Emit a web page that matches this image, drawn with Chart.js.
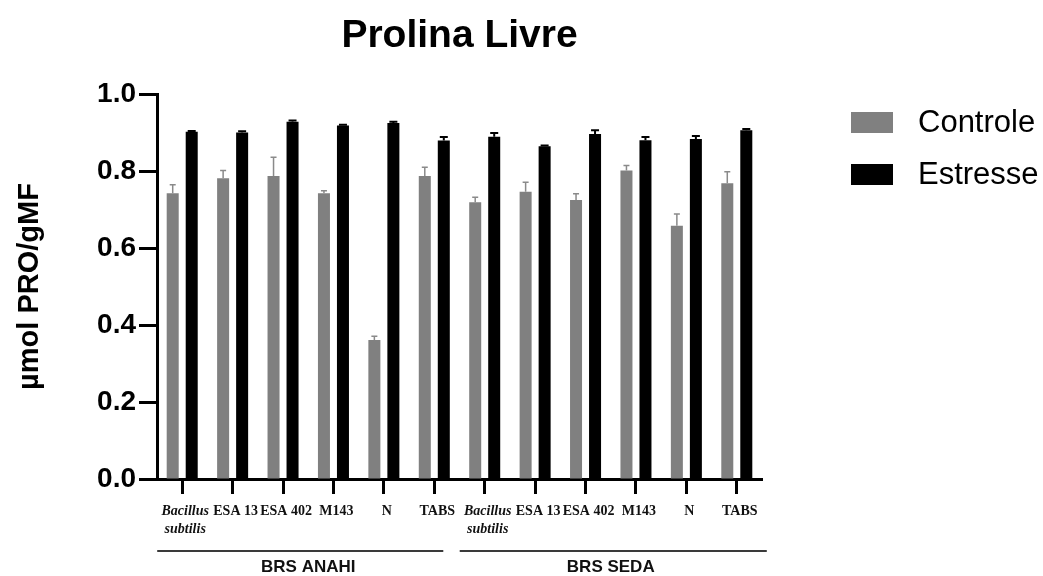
<!DOCTYPE html>
<html>
<head>
<meta charset="utf-8">
<title>Prolina Livre</title>
<script src="https://cdn.jsdelivr.net/npm/chart.js@4.4.1/dist/chart.umd.min.js"></script>
<style>
  html, body { margin: 0; padding: 0; background: #fff; }
  canvas { display: block; }
</style>
</head>
<body>
<canvas id="chart" width="1043" height="576"></canvas>
<script>
// Cultivars (groups along the x axis) and the inoculation treatments within each
const cultivars = ['BRS ANAHI', 'BRS SEDA'];
const treatments = [['Bacillus', 'subtilis'], 'ESA 13', 'ESA 402', 'M143', 'N', 'TABS'];

// Series names
const seriesNames = ['Controle', 'Estresse'];

// Mean free proline (µmol PRO/gMF), BRS ANAHI treatments then BRS SEDA treatments
const controleMeans = [0.742, 0.781, 0.787, 0.742, 0.361, 0.787,
                       0.719, 0.746, 0.725, 0.801, 0.658, 0.768];
const estresseMeans = [0.902, 0.900, 0.928, 0.918, 0.925, 0.879,
                       0.889, 0.864, 0.896, 0.880, 0.883, 0.906];

// Standard errors (upper whiskers only)
const controleErr = [0.022, 0.020, 0.049, 0.007, 0.010, 0.023,
                     0.013, 0.025, 0.016, 0.013, 0.030, 0.030];
const estresseErr = [0.002, 0.003, 0.003, 0.002, 0.003, 0.009,
                     0.010, 0.002, 0.010, 0.008, 0.008, 0.003];

// Y axis tick values
const yTicks = [0.0, 0.2, 0.4, 0.6, 0.8, 1.0];

const categoryLabels = cultivars.flatMap(() => treatments);

const SANS = '"Liberation Sans", Arial, Helvetica, sans-serif';
const SERIF = '"Liberation Serif", "Times New Roman", serif';

// Upward-only error whiskers with caps, drawn on top of each bar
const errorWhiskers = {
  id: 'errorWhiskers',
  afterDatasetsDraw(chart) {
    const ctx = chart.ctx;
    const yScale = chart.scales.y;
    ctx.save();
    chart.data.datasets.forEach((ds, di) => {
      const meta = chart.getDatasetMeta(di);
      meta.data.forEach((bar, i) => {
        const top = yScale.getPixelForValue(ds.data[i] + ds.errors[i]);
        const x = bar.x;
        ctx.strokeStyle = ds.whiskerColor;
        ctx.lineWidth = ds.whiskerWidth;
        ctx.beginPath();
        ctx.moveTo(x, bar.y);
        ctx.lineTo(x, top);
        ctx.moveTo(x - ds.capHalf, top);
        ctx.lineTo(x + ds.capHalf, top);
        ctx.stroke();
      });
    });
    ctx.restore();
  }
};

// Cultivar brackets beneath the treatment labels
const cultivarBrackets = {
  id: 'cultivarBrackets',
  afterDraw(chart) {
    const ctx = chart.ctx;
    const xs = chart.scales.x;
    const n = treatments.length;
    const ext = [[-25, 9], [-25, 30]];
    ctx.save();
    cultivars.forEach((name, g) => {
      const p0 = xs.getPixelForValue(g * n);
      const p1 = xs.getPixelForValue(g * n + n - 1);
      ctx.strokeStyle = '#3a3a3a';
      ctx.lineWidth = 2;
      ctx.beginPath();
      ctx.moveTo(p0 + ext[g][0], 551);
      ctx.lineTo(p1 + ext[g][1], 551);
      ctx.stroke();
      ctx.fillStyle = '#111';
      ctx.font = 'bold 17px ' + SANS;
      ctx.textAlign = 'center';
      ctx.textBaseline = 'middle';
      ctx.fillText(name, (p0 + p1) / 2, 567);
    });
    ctx.restore();
  }
};

// Legend block to the right of the plot
const sideLegend = {
  id: 'sideLegend',
  afterDraw(chart) {
    const ctx = chart.ctx;
    const left = chart.chartArea.right + 89;
    ctx.save();
    chart.data.datasets.forEach((ds, i) => {
      const y = 112 + i * 52;
      ctx.fillStyle = ds.backgroundColor;
      ctx.fillRect(left, y, 42, 21);
      ctx.fillStyle = '#000';
      ctx.font = '31px ' + SANS;
      ctx.textAlign = 'left';
      ctx.textBaseline = 'middle';
      ctx.fillText(ds.label, left + 67, y + 11);
    });
    ctx.restore();
  }
};

new Chart(document.getElementById('chart'), {
  type: 'bar',
  data: {
    labels: categoryLabels,
    datasets: [
      {
        label: seriesNames[0],
        data: controleMeans,
        errors: controleErr,
        backgroundColor: '#808080',
        whiskerColor: '#8a8a8a',
        whiskerWidth: 1.5,
        capHalf: 3
      },
      {
        label: seriesNames[1],
        data: estresseMeans,
        errors: estresseErr,
        backgroundColor: '#000000',
        whiskerColor: '#000000',
        whiskerWidth: 2,
        capHalf: 4
      }
    ]
  },
  options: {
    responsive: false,
    animation: false,
    devicePixelRatio: 1,
    categoryPercentage: 0.754,
    barPercentage: 0.632,
    layout: { padding: { left: 0, right: 281, top: 0, bottom: 0 } },
    plugins: {
      legend: { display: false },
      tooltip: { enabled: false },
      title: {
        display: true,
        text: 'Prolina Livre',
        color: '#000',
        fullSize: false,
        font: { family: SANS, size: 39, weight: 'bold', lineHeight: 1.2 },
        padding: { top: 13, bottom: 34.2 }
      }
    },
    scales: {
      x: {
        type: 'category',
        offset: true,
        grid: {
          offset: false,
          drawOnChartArea: false,
          drawTicks: true,
          tickLength: 15,
          tickWidth: 3,
          tickColor: '#000'
        },
        border: { display: true, color: '#000', width: 3 },
        ticks: {
          color: '#111',
          padding: 9,
          labelOffset: 3,
          autoSkip: false,
          maxRotation: 0,
          minRotation: 0,
          font: (c) => ({
            family: SERIF,
            size: 14,
            weight: 'bold',
            style: (c.index % treatments.length === 0) ? 'italic' : 'normal',
            lineHeight: 1.25
          })
        },
        afterFit(scale) { scale.height = 97; }
      },
      y: {
        min: 0,
        max: 1.0,
        afterBuildTicks(scale) { scale.ticks = yTicks.map(v => ({ value: v })); },
        grid: {
          drawOnChartArea: false,
          drawTicks: true,
          tickLength: 18,
          tickWidth: 3,
          tickColor: '#000'
        },
        border: { display: true, color: '#000', width: 3 },
        ticks: {
          color: '#000',
          padding: 3,
          font: { family: SANS, size: 28, weight: 'bold' },
          callback: (v) => Number(v).toFixed(1)
        },
        title: {
          display: true,
          text: 'µmol PRO/gMF',
          color: '#000',
          font: { family: SANS, size: 29, weight: 'bold', lineHeight: 1.2 },
          padding: { top: 13, bottom: 0 }
        },
        afterFit(scale) { scale.width = 157; }
      }
    }
  },
  plugins: [errorWhiskers, cultivarBrackets, sideLegend]
});
</script>
</body>
</html>
